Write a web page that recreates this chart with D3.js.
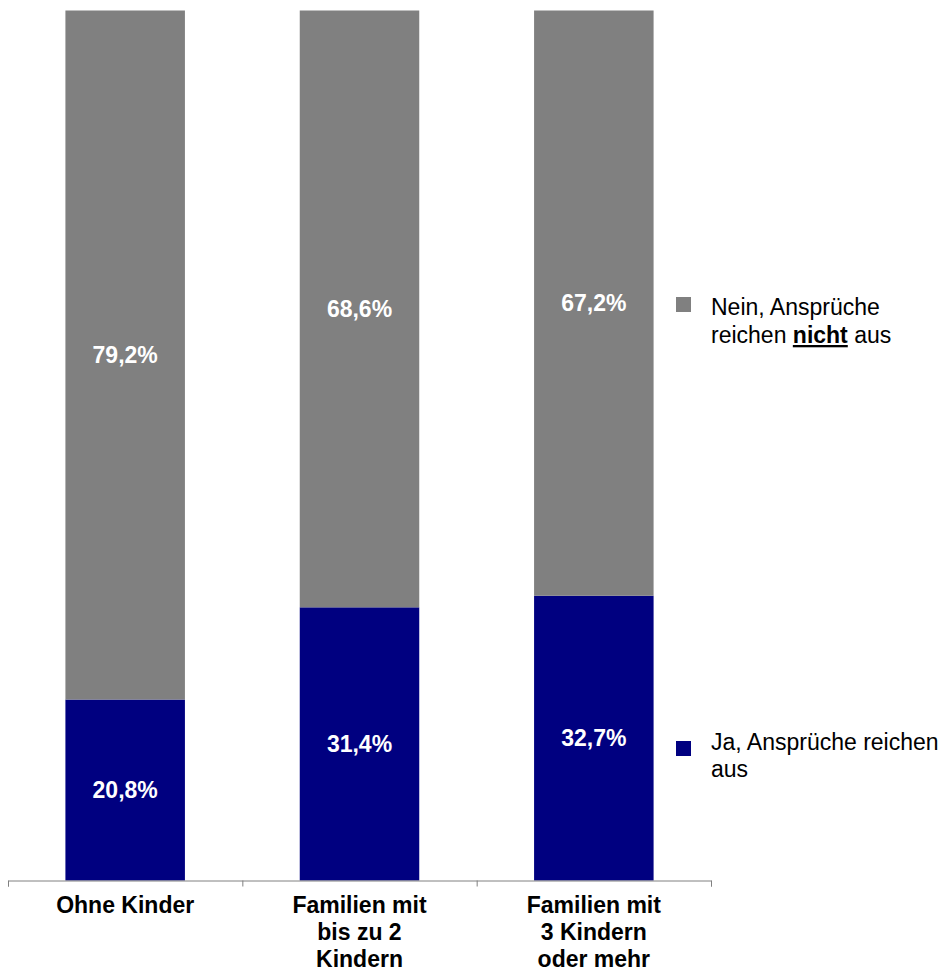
<!DOCTYPE html>
<html>
<head>
<meta charset="utf-8">
<script src="https://cdn.jsdelivr.net/npm/d3@7"></script>
<style>
  html, body { margin: 0; padding: 0; background: #fff; }
  svg { display: block; font-family: "Liberation Sans", Arial, sans-serif; }
</style>
</head>
<body>
<svg id="chart" width="950" height="973"></svg>
<script>
// ---- data ----
const categories = [
  ["Ohne Kinder"],
  ["Familien mit", "bis zu 2", "Kindern"],
  ["Familien mit", "3 Kindern", "oder mehr"]
];
const seriesNames = ["Ja, Ansprüche reichen aus", "Nein, Ansprüche reichen nicht aus"];
const jaValues = [20.8, 31.4, 32.7];
const neinValues = [79.2, 68.6, 67.2];
const colors = ["#000080", "#808080"];

// ---- layout ----
const svg = d3.select("#chart");
const x0 = 8, x1 = 711, yTop = 10.5, yBottom = 880.5;

const rows = categories.map((c, i) => ({ key: i, ja: jaValues[i], nein: neinValues[i] }));
const keys = ["ja", "nein"];
const stack = d3.stack().keys(keys).offset(d3.stackOffsetExpand);
const stacked = stack(rows);

const x = d3.scaleBand().domain(d3.range(categories.length)).range([x0, x1]).paddingInner(0.49).paddingOuter(0.245);
const y = d3.scaleLinear().domain([0, 1]).range([yBottom, yTop]);

const g = svg.append("g");
stacked.forEach((layer, li) => {
  g.selectAll(null).data(layer).enter().append("rect")
    .attr("x", (d, i) => x(i))
    .attr("width", x.bandwidth())
    .attr("y", d => y(d[1]))
    .attr("height", d => y(d[0]) - y(d[1]))
    .attr("fill", colors[li]);
  g.selectAll(null).data(layer).enter().append("text")
    .attr("x", (d, i) => x(i) + x.bandwidth() / 2)
    .attr("y", d => (y(d[0]) + y(d[1])) / 2)
    .attr("dy", "0.36em")
    .attr("text-anchor", "middle")
    .attr("fill", "#fff")
    .attr("font-weight", "bold")
    .attr("font-size", 23)
    .text(d => d.data[keys[li]].toFixed(1).replace(".", ",") + "%");
});

// axis
const axisScale = d3.scaleLinear().domain([0, categories.length]).range([x0, x1]);
const axis = d3.axisBottom(axisScale).tickValues(d3.range(categories.length + 1)).tickSize(6).tickFormat("");
const ag = svg.append("g").attr("transform", `translate(0,${yBottom})`).call(axis);
ag.select(".domain").attr("stroke", "#808080").attr("stroke-width", 1);
ag.selectAll(".tick line").attr("stroke", "#808080");

// category labels
categories.forEach((lines, i) => {
  const t = svg.append("text")
    .attr("text-anchor", "middle")
    .attr("font-weight", "bold")
    .attr("font-size", 23)
    .attr("fill", "#000");
  lines.forEach((ln, j) => {
    t.append("tspan")
      .attr("x", x(i) + x.bandwidth() / 2)
      .attr("y", 913 + j * 27)
      .text(ln);
  });
});

// legend
const lg = svg.append("g");
// Nein
lg.append("rect").attr("x", 676).attr("y", 297).attr("width", 15).attr("height", 15).attr("fill", colors[1]);
const t1 = lg.append("text").attr("font-size", 23).attr("fill", "#000");
t1.append("tspan").attr("x", 711).attr("y", 315).text("Nein, Ansprüche");
const l2 = t1.append("tspan").attr("x", 711).attr("y", 343);
l2.append("tspan").text("reichen ");
l2.append("tspan").attr("font-weight", "bold").attr("text-decoration", "underline").text("nicht");
l2.append("tspan").text(" aus");
// Ja
lg.append("rect").attr("x", 676).attr("y", 741).attr("width", 15).attr("height", 15).attr("fill", colors[0]);
const t2 = lg.append("text").attr("font-size", 23).attr("fill", "#000");
t2.append("tspan").attr("x", 711).attr("y", 750).text("Ja, Ansprüche reichen");
t2.append("tspan").attr("x", 711).attr("y", 777).text("aus");
</script>
</body>
</html>
